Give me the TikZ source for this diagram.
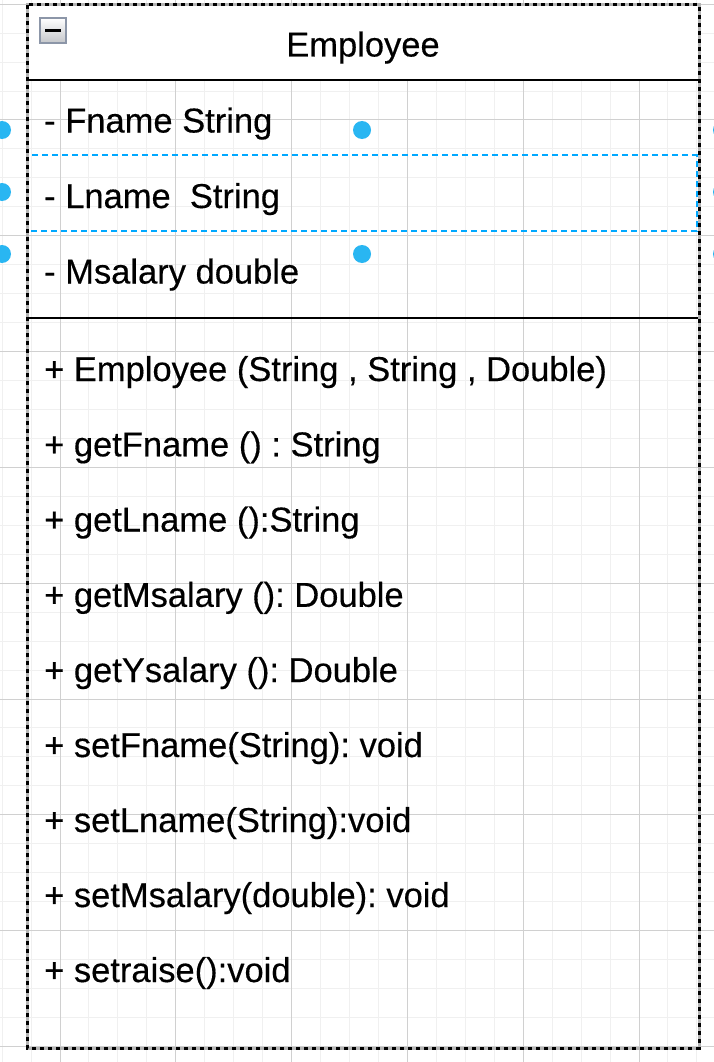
\documentclass[tikz,border=0pt]{standalone}
\usepackage{fontspec}
\newfontfamily\umlfont{Liberation Sans}[FakeBold=0.35]
\definecolor{minorgrid}{HTML}{F0F0F0}
\definecolor{majorgrid}{HTML}{D0D0D0}
\definecolor{selblue}{HTML}{00A8FF}
\definecolor{handleblue}{HTML}{29B6F2}
\definecolor{iconborder}{HTML}{8C96A8}
\definecolor{icongray}{HTML}{C4C6CA}
\definecolor{outlinegray}{HTML}{B4B4B4}
\tikzset{
  gminor/.style={draw=minorgrid, line width=1pt},
  gmajor/.style={draw=majorgrid, line width=1pt},
  rowtext/.style={anchor=base west, inner sep=0pt, font=\umlfont\fontsize{34.5}{40}\selectfont},
  titletext/.style={anchor=base, inner sep=0pt, font=\umlfont\fontsize{34.5}{40}\selectfont},
  sepline/.style={draw=black, line width=2.5pt},
  handle/.style={fill=handleblue, draw=none},
  selrow/.style={draw=selblue, line width=2pt, dash pattern=on 6pt off 4pt},
}
\frenchspacing
\begin{document}
\begin{tikzpicture}[x=1pt, y=-1pt]
\useasboundingbox (0,0) rectangle (714,1062);
\fill[white] (0,0) rectangle (714,1062);
% grid
\foreach \j in {-3,...,25} {
  \draw[gminor] ({60+28.95*\j},0) -- ({60+28.95*\j},1062);
}
\foreach \j in {0,...,37} {
  \draw[gminor] (0,{4.2+28.95*\j}) -- (714,{4.2+28.95*\j});
}
\foreach \j in {-1,...,6} {
  \draw[gmajor] ({60+115.8*\j},0) -- ({60+115.8*\j},1062);
}
\foreach \j in {0,...,9} {
  \draw[gmajor] (0,{4.2+115.8*\j}) -- (714,{4.2+115.8*\j});
}
% header
\fill[white] (27,5) rectangle (699,80);
\draw[sepline] (27,80) -- (699,80);
\draw[sepline] (27,318) -- (699,318);
% collapse icon
\shade[top color=white, bottom color=icongray, draw=iconborder, line width=2pt] (40,18) rectangle (66,43);
\draw[black, line width=3pt] (45,30.5) -- (61,30.5);
% texts
\node[titletext] (title) at (363,56.5) {Employee};
\node[rowtext] (a1) at (44,132.5) {- Fname String};
\node[rowtext] (a2) at (44,208) {- Lname\ \ String};
\node[rowtext] (a3) at (44,283.5) {- Msalary double};
\node[rowtext] (m1) at (44,381) {+ Employee (String , String , Double)};
\node[rowtext] (m2) at (44,456.3) {+ getFname () : String};
\node[rowtext] (m3) at (44,531.5) {+ getLname ():String};
\node[rowtext] (m4) at (44,606.8) {+ getMsalary (): Double};
\node[rowtext] (m5) at (44,682) {+ getYsalary (): Double};
\node[rowtext] (m6) at (44,757) {+ setFname(String): void};
\node[rowtext] (m7) at (44,832) {+ setLname(String):void};
\node[rowtext] (m8) at (44,907) {+ setMsalary(double): void};
\node[rowtext] (m9) at (44,982) {+ setraise():void};
% selected row
\draw[selrow] (27,155) rectangle (696.5,231);
% handles
\foreach \p in {(2,130),(2,192),(2,254),(362,130),(362,254),(722,130),(722,192),(722,254)} {
  \fill[handle] \p circle (9);
}
% outline
\draw[outlinegray, line width=3pt] (27,5) rectangle (699,1048);
\draw[black, line width=3pt, dash pattern=on 4pt off 4pt] (27,5) rectangle (699,1048);
\end{tikzpicture}
\end{document}
